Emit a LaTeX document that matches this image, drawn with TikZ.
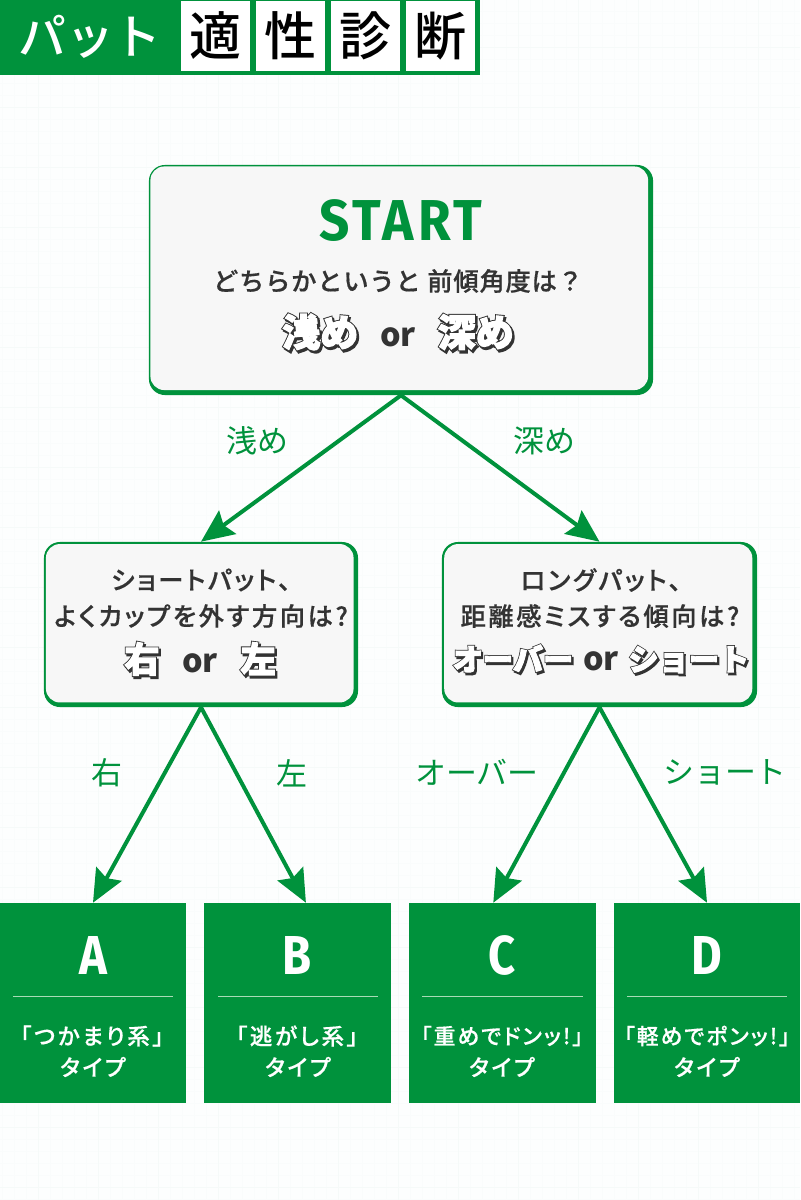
\documentclass[tikz,border=0pt]{standalone}
\usepackage{fontspec}
\usepackage{xcolor}
\usetikzlibrary{arrows.meta}
\usetikzlibrary{positioning}

\setmainfont{Noto Sans CJK JP}
\newfontfamily\medfont{Noto Sans CJK JP Medium}
\newfontfamily\askfont[LetterSpace=3,FakeBold=0.5]{Noto Sans CJK JP Medium}
\newfontfamily\pairfont[LetterSpace=10,RawFeature={+palt},FakeBold=0.5]{Noto Sans CJK JP Medium}
\newfontfamily\namefont[LetterSpace=12,RawFeature={+palt},FakeBold=0.5]{Noto Sans CJK JP Medium}
\newfontfamily\widefont[LetterSpace=9,RawFeature={+palt},FakeBold=0.5]{Noto Sans CJK JP Medium}
\newfontfamily\startfont[FakeStretch=0.86]{Fira Sans}
\newfontfamily\headfont[FakeStretch=0.92,LetterSpace=7]{Fira Sans}
\newfontfamily\outerfont[FakeBold=8]{Noto Sans CJK JP Bold}
\newfontfamily\innerfont[FakeBold=3]{Noto Sans CJK JP Bold}

\definecolor{pgreen}{HTML}{00923C}
\definecolor{pdark}{HTML}{333333}
\definecolor{pbox}{HTML}{F7F7F7}
\definecolor{ppage}{HTML}{FDFEFE}
\definecolor{pgridmajor}{HTML}{F6FAF9}
\definecolor{pgridminor}{HTML}{FAFCFC}
\definecolor{pbar}{HTML}{A9DBB6}

% outlined heading word
\newcommand{\heavyword}[2][27]{{\fontsize{#1}{#1}\selectfont
    \rlap{\raisebox{-1.5pt}{\kern1.2pt\outerfont\color{pdark}#2}}%
    \rlap{\outerfont\color{pdark}#2}%
    {\innerfont\color{white}#2}}}

\tikzset{
    outerbox/.style={
        fill=pgreen,
        rounded corners=0.4cm,
        inner sep=0pt
    },
    innerbox/.style={
        fill=pbox,
        rounded corners=0.35cm,
        inner sep=0pt
    },
    typebox/.style={
        fill=pgreen,
        inner sep=0pt,
        minimum width=4.65cm,
        minimum height=5cm
    },
    titlebox/.style={
        fill=white,
        inner sep=0pt,
        minimum width=1.73cm,
        minimum height=1.73cm,
        font=\fontsize{37}{37}\medfont\selectfont
    },
    flow/.style={
        draw=pgreen,
        line width=1mm,
        -{Stealth[length=0.82cm,width=0.72cm,inset=0.12cm]}
    },
    branch/.style={
        text=pgreen,
        font=\fontsize{22}{22}\selectfont
    },
    question/.style={
        text=pdark,
        font=\fontsize{18}{18}\pairfont\selectfont
    },
    choice/.style={
        text=pdark,
        font=\fontsize{23}{23}\bfseries\selectfont
    },
    letter/.style={
        text=white,
        font=\fontsize{39}{39}\startfont\bfseries\selectfont
    },
    typename/.style={
        text=white,
        font=\fontsize{16}{16}\namefont\selectfont
    },
    widename/.style={
        text=white,
        inner sep=0pt,
        font=\fontsize{15.5}{15.5}\widefont\selectfont
    }
}

\begin{document}
\begin{tikzpicture}[x=0.025cm,y=-0.025cm]
    \useasboundingbox (0,0) rectangle (800,1200);
    \fill[ppage] (0,0) rectangle (800,1200);

    % faint sheet grid
    \foreach \gx in {2,14,...,800} {
        \draw[pgridminor,line width=0.15mm] (\gx,0) -- (\gx,1200);
    }
    \foreach \gy in {11,23,...,1200} {
        \draw[pgridminor,line width=0.15mm] (0,\gy) -- (800,\gy);
    }
    \foreach \gx in {38,98,...,800} {
        \draw[pgridmajor,line width=0.2mm] (\gx,0) -- (\gx,1200);
    }
    \foreach \gy in {47,107,...,1200} {
        \draw[pgridmajor,line width=0.2mm] (0,\gy) -- (800,\gy);
    }

    % title band
    \node[fill=pgreen,inner sep=0pt,minimum width=12cm,minimum height=1.875cm] (band) at (240,37.5) {};
    \node[text=white,font=\fontsize{34}{34}\medfont\selectfont] (bandtext) at (90,37) {パット};
    \node[titlebox] (tekia) at (215.5,36) {適};
    \node[titlebox] (tekib) at (290.5,36) {性};
    \node[titlebox] (tekic) at (365.5,36) {診};
    \node[titlebox] (tekid) at (440.5,36) {断};

    % start box
    \node[outerbox,minimum width=12.6cm,minimum height=5.75cm] (start) at (401,280) {};
    \node[innerbox,minimum width=12.44cm,minimum height=5.59cm] (startin) at (399.25,278.25) {};
    \node[text=pgreen,font=\fontsize{41}{41}\headfont\bfseries\selectfont] (starttext) at (401,221) {START};
    \node[question,font=\fontsize{18}{18}\askfont\selectfont] (startq) at (398,281) {どちらかというと 前傾角度は？};
    \node[choice] (startc) at (398,333) {\heavyword{浅め}\hspace{0.68em}or\hspace{0.68em}\heavyword{深め}};

    % left question
    \node[outerbox,minimum width=7.85cm,minimum height=4.125cm] (shortq) at (201,624.5) {};
    \node[innerbox,minimum width=7.69cm,minimum height=3.96cm] (shortin) at (199.75,623.25) {};
    \node[question] (shortqa) at (201,580) {ショートパット、};
    \node[question] (shortqb) at (201,616) {よくカップを外す方向は?};
    \node[choice] (shortc) at (200,660) {\heavyword[25]{右}\hspace{0.7em}or\hspace{0.7em}\heavyword[25]{左}};

    % right question
    \node[outerbox,minimum width=7.875cm,minimum height=4.125cm] (longq) at (599.5,624.5) {};
    \node[innerbox,minimum width=7.7cm,minimum height=3.96cm] (longin) at (598.25,623.25) {};
    \node[question] (longqa) at (601,580) {ロングパット、};
    \node[question] (longqb) at (600,616) {距離感ミスする傾向は?};
    \node[choice] (longc) at (601,660) {\heavyword[21.5]{オーバー}\hspace{0.3em}or\hspace{0.3em}\heavyword[21.5]{ショート}};

    % result boxes
    \node[typebox] (boxa) at (93,1003) {};
    \node[typebox] (boxb) at (297.5,1003) {};
    \node[typebox] (boxc) at (502.5,1003) {};
    \node[typebox] (boxd) at (707,1003) {};

    \node[letter] (lettera) at (93,955) {A};
    \node[letter] (letterb) at (297.5,955) {B};
    \node[letter] (letterc) at (502.5,955) {C};
    \node[letter] (letterd) at (707,955) {D};

    \draw[pbar,line width=0.3mm] (13,996.5) -- (173,996.5);
    \draw[pbar,line width=0.3mm] (218,996.5) -- (378,996.5);
    \draw[pbar,line width=0.3mm] (422,996.5) -- (583,996.5);
    \draw[pbar,line width=0.3mm] (627,996.5) -- (787,996.5);

    \node[typename] (namea) at (92,1036) {「つかまり系」};
    \node[typename] (nameb) at (297,1036) {「逃がし系」};
    \node[widename] (namec) at (502,1036) {「重めでドンッ!」};
    \node[widename] (named) at (707,1036) {「軽めでポンッ!」};
    \node[typename] (kinda) at (93,1067) {タイプ};
    \node[typename] (kindb) at (298,1067) {タイプ};
    \node[typename] (kindc) at (502,1067) {タイプ};
    \node[typename] (kindd) at (707,1067) {タイプ};

    % connectors
    \draw[flow] (start.south) -- (shortq.north);
    \draw[flow] (start.south) -- (longq.north);
    \draw[flow] (shortq.south) -- (boxa.north);
    \draw[flow] (shortq.south) -- ([xshift=0.21cm]boxb.north);
    \draw[flow] (longq.south) -- ([xshift=-0.23cm]boxc.north);
    \draw[flow] (longq.south) -- (boxd.north);

    % branch labels
    \node[branch] at (257,441) {浅め};
    \node[branch] at (544,441) {深め};
    \node[branch] at (107,773) {右};
    \node[branch] at (292,773) {左};
    \node[branch] at (477,772) {オーバー};
    \node[branch] at (725,772) {ショート};
\end{tikzpicture}
\end{document}
